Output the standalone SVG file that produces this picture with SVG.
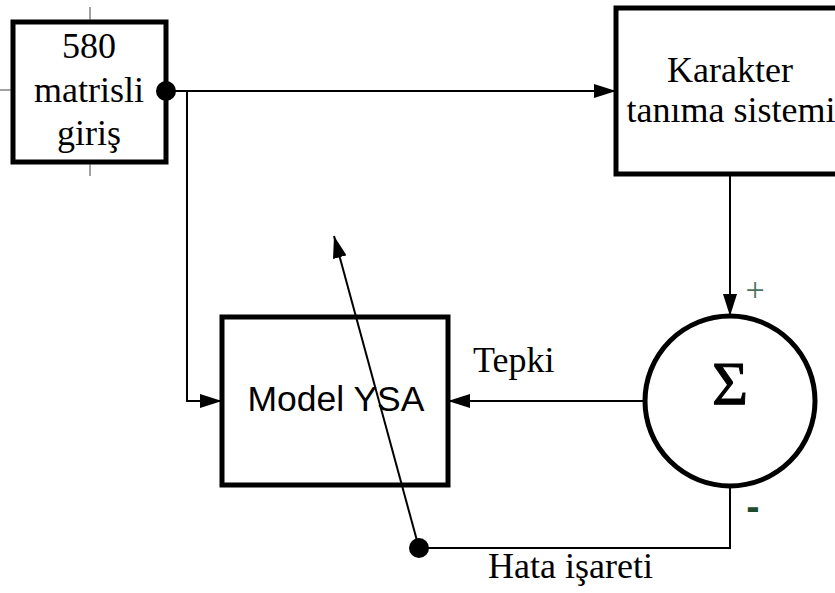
<svg xmlns="http://www.w3.org/2000/svg" width="835" height="593" viewBox="0 0 835 593">
<style>
.box{fill:#fff;stroke:#000;stroke-width:5}
.ln{fill:none;stroke:#000;stroke-width:2}
.tick{fill:none;stroke:#444;stroke-width:1}
.t{font-family:"Liberation Serif","Times New Roman",serif;font-size:36px;fill:#000}
.s{font-family:"Liberation Sans",Arial,sans-serif;font-size:35.5px;fill:#000}
</style>
<defs>
<marker id="ah" viewBox="0 0 22 14" refX="22" refY="7" markerWidth="22" markerHeight="14" markerUnits="userSpaceOnUse" orient="auto">
<path d="M0,0 L22,7 L0,14 Z" fill="#000"/>
</marker>
</defs>
<rect width="835" height="593" fill="#fff"/>
<g id="input">
<rect class="box" x="13" y="22" width="153" height="140"/>
<text class="t" x="89" y="58" text-anchor="middle">580</text>
<text class="t" x="89" y="102" text-anchor="middle">matrisli</text>
<text class="t" x="89" y="145" text-anchor="middle">giriş</text>
</g>
<g id="karakter">
<rect class="box" x="616" y="8" width="240" height="166"/>
<text class="t" x="730" y="82" text-anchor="middle">Karakter</text>
<text class="t" x="731" y="122" text-anchor="middle">tanıma sistemi</text>
</g>
<g id="model">
<rect class="box" x="222" y="317" width="226" height="168"/>
<text class="s" x="336" y="411" text-anchor="middle">Model YSA</text>
</g>
<g id="sum">
<circle cx="730" cy="401" r="85" fill="#fff" stroke="#000" stroke-width="5"/>
<text x="730" y="404" text-anchor="middle" font-family="Liberation Serif,serif" font-size="62" stroke="#000" stroke-width="1">Σ</text>
<text x="755" y="301" text-anchor="middle" font-family="Liberation Serif,serif" font-size="34" fill="#4a7060">+</text>
<text x="753" y="520" text-anchor="middle" font-family="Liberation Sans,sans-serif" font-size="40" font-weight="bold" fill="#1e4a2e">-</text>
</g>
<g id="labels">
<text class="t" x="473" y="372">Tepki</text>
<text class="t" x="488" y="578">Hata işareti</text>
</g>
<g id="connectors">
<line class="tick" x1="90" y1="7" x2="90" y2="20"/>
<line class="tick" x1="90" y1="164" x2="90" y2="176"/>
<line class="tick" x1="0" y1="90" x2="11" y2="90"/>
<line class="ln" x1="166" y1="91" x2="616" y2="91" marker-end="url(#ah)"/>
<polyline class="ln" points="187,91 187,401 222,401" marker-end="url(#ah)"/>
<line class="ln" x1="730" y1="176" x2="730" y2="316" marker-end="url(#ah)"/>
<line class="ln" x1="645" y1="401" x2="448" y2="401" marker-end="url(#ah)"/>
<polyline class="ln" points="730,487 730,548 419,548"/>
<line class="ln" x1="419" y1="548" x2="334" y2="236" marker-end="url(#ah)"/>
<circle cx="166" cy="91" r="10" fill="#000"/>
<circle cx="419" cy="548" r="10" fill="#000"/>
</g>
</svg>
